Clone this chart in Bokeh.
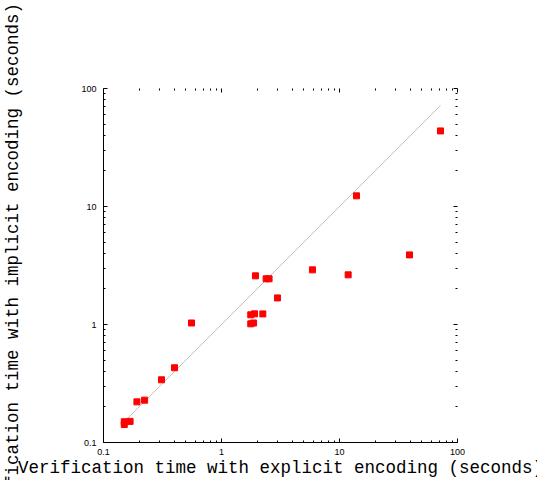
from bokeh.plotting import figure
from bokeh.models import LogAxis, FixedTicker, CustomJSTickFormatter, Range1d
from bokeh.embed import file_html
from bokeh.resources import INLINE

# --- data ---
explicit = [0.15, 0.15, 0.168, 0.192, 0.223, 0.31, 0.40, 0.557, 1.77, 1.87,
            1.77, 1.905, 2.24, 1.94, 2.39, 2.53, 2.98, 5.90, 11.84, 13.93,
            39.2, 71.8]
implicit = [0.142, 0.15, 0.151, 0.221, 0.2285, 0.34, 0.43, 1.03, 1.013, 1.03,
            1.208, 1.231, 1.23, 2.585, 2.44, 2.44, 1.68, 2.906, 2.636, 12.31,
            3.89, 43.7]
x_ticks = [0.1, 1, 10, 100]
y_ticks = [0.1, 1, 10, 100]
x_title = "Verification time with explicit encoding (seconds)"
y_title = "Verification time with implicit encoding (seconds)"

# minor ticks 2..9 per decade
def minors(ticks):
    out = []
    for t in ticks[:-1]:
        out += [t * k for k in range(2, 10)]
    return out

p = figure(frame_width=354, frame_height=354,
           x_axis_type="log", y_axis_type="log",
           x_range=Range1d(x_ticks[0], x_ticks[-1]),
           y_range=Range1d(y_ticks[0], y_ticks[-1]),
           output_backend="svg", toolbar_location=None,
           min_border_left=103, min_border_right=80,
           min_border_top=88, min_border_bottom=30)
p.grid.visible = False
p.outline_line_color = None
p.background_fill_color = "white"
p.border_fill_color = "white"

label_fmt = CustomJSTickFormatter(code="return tick.toString()")
blank_fmt = CustomJSTickFormatter(code="return ''")

def style(ax, ticks, labels=True, line=True):
    ax.ticker = FixedTicker(ticks=ticks, minor_ticks=minors(ticks))
    ax.formatter = label_fmt if labels else blank_fmt
    ax.axis_line_color = "black" if line else None
    ax.axis_line_width = 1
    ax.major_tick_in = 4
    ax.major_tick_out = 0
    ax.minor_tick_in = 2
    ax.minor_tick_out = 0
    ax.major_tick_line_color = "black"
    ax.minor_tick_line_color = "black"
    ax.major_label_text_font = "Liberation Sans"
    ax.major_label_text_font_size = "9px" if labels else "0px"
    ax.major_label_text_color = "black"
    ax.major_label_standoff = 6
    ax.axis_label_text_font = "Liberation Mono"
    ax.axis_label_text_font_size = "17.5px"
    ax.axis_label_text_font_style = "normal"
    ax.axis_label_text_color = "black"

style(p.xaxis[0], x_ticks)
style(p.yaxis[0], y_ticks)
p.yaxis[0].major_label_standoff = 7
p.xaxis[0].axis_label = x_title
p.xaxis[0].axis_label_standoff = 0
p.yaxis[0].axis_label = y_title
p.yaxis[0].axis_label_standoff = 55

top = LogAxis()
style(top, x_ticks, labels=False, line=False)
p.add_layout(top, "above")
right = LogAxis()
style(right, y_ticks, labels=False, line=False)
p.add_layout(right, "right")

lo, hi = min(explicit), max(explicit)
p.line([lo, hi], [lo, hi], line_color="#c0c0c0", line_width=1)
p.scatter(explicit, implicit, marker="square", size=6,
          fill_color="#ff0000", line_color="#ff0000")

open("out.html", "w").write(file_html(p, INLINE))
